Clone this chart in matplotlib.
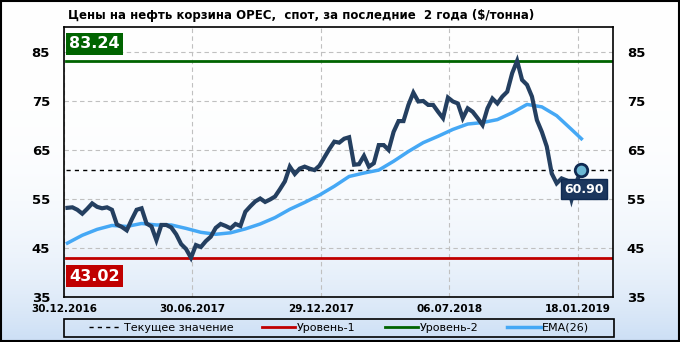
import numpy as np
import matplotlib
matplotlib.use("Agg")
import matplotlib.pyplot as plt
from matplotlib.patches import Rectangle

# weekly OPEC basket prices
price = [53.2, 53.3, 52.8, 52.0, 53.0, 54.1, 53.4, 53.1, 53.3, 52.8,
         49.8, 49.3, 48.6, 50.8, 52.8, 53.1, 50.0, 49.4, 46.6, 49.7,
         49.7, 49.2, 47.8, 45.8, 44.8, 43.0, 45.6, 45.2, 46.4, 47.3,
         49.1, 49.9, 49.5, 49.0, 49.9, 49.5, 52.4, 53.5, 54.5, 55.1,
         54.4, 54.9, 55.5, 57.0, 58.6, 61.6, 60.1, 61.2, 61.6, 61.2,
         60.9, 61.8, 63.5, 65.2, 66.7, 66.5, 67.3, 67.6, 62.0, 62.1,
         63.8, 61.6, 62.3, 66.0, 66.0, 65.0, 68.7, 70.9, 70.9, 74.2,
         76.7, 74.9, 75.0, 74.2, 74.2, 72.8, 71.5, 75.7, 74.9, 74.5,
         71.5, 73.5, 72.8, 71.5, 70.1, 73.5, 75.5, 74.5, 75.9, 76.9,
         80.7, 83.2, 79.3, 78.3, 75.9, 71.1, 68.7, 65.7, 60.2, 58.2,
         59.2, 58.8, 54.9, 58.5, 60.9]

# EMA(26), sampled every third week
ema_week = [0, 3, 6, 9, 12, 15, 18, 21, 24, 27, 30, 33, 36, 39, 42, 45, 48,
            51, 54, 57, 60, 63, 66, 69, 72, 75, 78, 81, 84, 87, 90, 93, 96,
            99, 102, 104]
ema = [46.0, 47.6, 48.8, 49.6, 49.4, 50.0, 49.7, 49.7, 49.0, 48.2, 47.8,
       48.1, 48.9, 49.9, 51.2, 52.9, 54.3, 55.8, 57.6, 59.6, 60.3, 60.9,
       62.7, 64.7, 66.5, 67.8, 69.2, 70.3, 70.6, 71.2, 72.6, 74.3, 73.8,
       72.0, 69.2, 67.3]

date_labels = ["30.12.2016", "30.06.2017", "29.12.2017", "06.07.2018", "18.01.2019"]
yticks = [35, 45, 55, 65, 75, 85]
level1 = 43.02
level2 = 83.24
current = 60.90

title = "Цены на нефть корзина OPEC,  спот, за последние  2 года ($/тонна)"

navy = "#243f60"
ema_col = "#45a8f5"
red = "#c00000"
green = "#006400"

plt.rcParams["font.family"] = ["DejaVu Sans"]

fig = plt.figure(figsize=(6.8, 3.42), dpi=100)

# background gradient
bg = fig.add_axes([0, 0, 1, 1], zorder=-10)
t = np.linspace(0, 1, 256) ** 3.5
top = np.array([1.0, 1.0, 1.0])
bot = np.array([0xcc, 0xdf, 0xf5]) / 255
grad = top[None, :] * (1 - t[:, None]) + bot[None, :] * t[:, None]
bg.imshow(grad[:, None, :], aspect="auto", extent=[0, 1, 0, 1])
bg.set_axis_off()
fig.patches.append(Rectangle((0.001, 0.002), 0.997, 0.995, transform=fig.transFigure,
                             fill=False, ec="black", lw=1.5))

ax = fig.add_axes([64 / 680, 1 - 297 / 342, 549 / 680, 270 / 342])
ax.set_facecolor("none")

x = np.arange(len(price))
ax.set_xlim(-0.7, 110.4)
ax.set_ylim(35, 90.1)

xt = np.arange(len(date_labels)) * 26 - 0.7
ax.set_xticks(xt)
ax.set_xticklabels(date_labels, fontsize=7.5, fontweight="bold")
ax.set_yticks(yticks)
ax.set_yticklabels([str(v) for v in yticks], fontsize=9.5, fontweight="bold")
ax.tick_params(length=0, pad=5, labelright=True)
ax.tick_params(axis="y", pad=10)
ax.grid(True, color="#c0c0c0", ls=(0, (4, 3)), lw=0.8)
for s in ax.spines.values():
    s.set_linewidth(1.2)

ax.axhline(current, color="black", ls=(0, (3, 3)), lw=1, xmin=0.004, xmax=0.996,
           label="Текущее значение")
ax.axhline(level1, color=red, lw=2, xmin=0.004, xmax=0.996, label="Уровень-1")
ax.axhline(level2, color=green, lw=2, xmin=0.004, xmax=0.996, label="Уровень-2")
ax.plot(ema_week, ema, color=ema_col, lw=2.5, label="EMA(26)", zorder=3)
ax.plot(x, price, color=navy, lw=3, solid_joinstyle="miter", zorder=4)
ax.plot(x[-1], price[-1], "o", ms=9, mfc="#6cb8d4", mec="#0f2a52", mew=2, zorder=5)

ax.text(0.009, 0.965, f"{level2:.2f}", transform=ax.transAxes, ha="left", va="top",
        color="white", fontsize=11.5, fontweight="bold",
        bbox=dict(boxstyle="square,pad=0.2", fc=green, ec="none"))
ax.text(0.009, 0.105, f"{level1:.2f}", transform=ax.transAxes, ha="left", va="top",
        color="white", fontsize=11.5, fontweight="bold",
        bbox=dict(boxstyle="square,pad=0.2", fc=red, ec="none"))
ax.annotate(f"{current:.2f}", (x[-1], price[-1]), xytext=(3, -19),
            textcoords="offset pixels", ha="center", va="center",
            color="white", fontsize=9, fontweight="bold", zorder=6,
            bbox=dict(boxstyle="square,pad=0.25", fc="#1b365d", ec="#0f2a52"))

fig.text(68 / 680, 1 - 15 / 342, title, fontsize=8.5, fontweight="bold",
         ha="left", va="center")

# legend: frameless, with its own box spanning the plot width
fig.patches.append(Rectangle((64 / 680, 1 - 337 / 342), 550 / 680, 18 / 342,
                             transform=fig.transFigure, fill=False, ec="black", lw=1.2))
leg = ax.legend(loc="center", ncol=4, bbox_to_anchor=(339 / 680, 1 - 328 / 342),
                bbox_transform=fig.transFigure, fontsize=8, frameon=False,
                handlelength=3, handletextpad=0.15, borderpad=0.2,
                columnspacing=2.6)

fig.savefig("out.png", dpi=100)
